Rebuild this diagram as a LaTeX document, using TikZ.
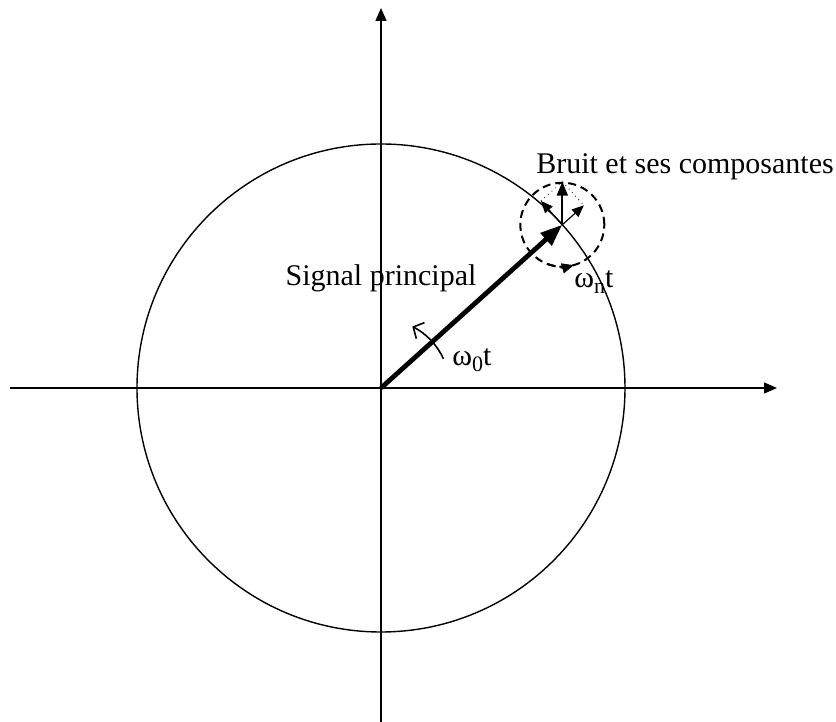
\documentclass[tikz,border=0pt]{standalone}
\usepackage{fontspec}
\setmainfont{Liberation Serif}
\usetikzlibrary{arrows.meta}

\newcommand{\lowsub}[1]{\raisebox{-0.4ex}{\fontsize{11}{11}\selectfont #1}}

\begin{document}
\begin{tikzpicture}[
    x=0.5pt, y=0.5pt,
    axis/.style={-{Triangle[length=6.5pt, width=5.5pt]}, line width=0.7pt},
    sig/.style={-{Triangle[length=11pt, width=8pt]}, line width=2.4pt},
    noisevec/.style={-{Triangle[length=7pt, width=5.5pt]}, line width=1.1pt},
    comp/.style={-{Triangle[length=6pt, width=5pt]}, line width=0.6pt},
    turn/.style={-{Straight Barb[length=4pt, width=9pt]}, line width=0.8pt},
    lbl/.style={font=\fontsize{15}{18}\selectfont, inner sep=0pt},
    >=Stealth
]
\useasboundingbox (-381,-334) rectangle (455,388);

% axes and circle
\coordinate (O) at (0,0);
\coordinate (xl) at (-371,0);
\coordinate (xr) at (396,0);
\coordinate (yb) at (0,-334);
\coordinate (yt) at (0,380);
\draw[axis] (xl) -- (xr);
\draw[axis] (yb) -- (yt);
\draw[line width=0.7pt] (O) circle[radius=244];

% main signal
\coordinate (S) at (42:244);
\draw[sig] (O) -- (S);
\draw[turn] (25:69) arc[start angle=25, end angle=63, radius=69];

% noise and its components
\coordinate (N) at ([shift={(0,43)}]S);
\coordinate (C1) at ([shift={(132:32)}]S);
\coordinate (C2) at ([shift={(42:29)}]S);
\draw[line width=1pt, dash pattern=on 4pt off 2.5pt] (S) circle[radius=42];
\draw[line width=1pt, dash pattern=on 4pt off 2.5pt, -{Triangle[length=6pt, width=5pt]}]
    ([shift={(-110:42)}]S) arc[start angle=-110, end angle=-74, radius=42];
\draw[dotted, line width=0.4pt] (C1) -- (N) -- (C2);
\draw[comp] (S) -- (C1);
\draw[comp] (S) -- (C2);
\draw[noisevec] (S) -- (N);

% labels
\node[lbl] (sp) at (0,110) {Signal principal};
\node[lbl] (bruit) at (304,221) {Bruit et ses composantes};
\node[lbl] (wn) at (213,106) {ω\lowsub{n}t};
\node[lbl] (w0) at (91,28) {ω\lowsub{0}t};

\end{tikzpicture}
\end{document}
